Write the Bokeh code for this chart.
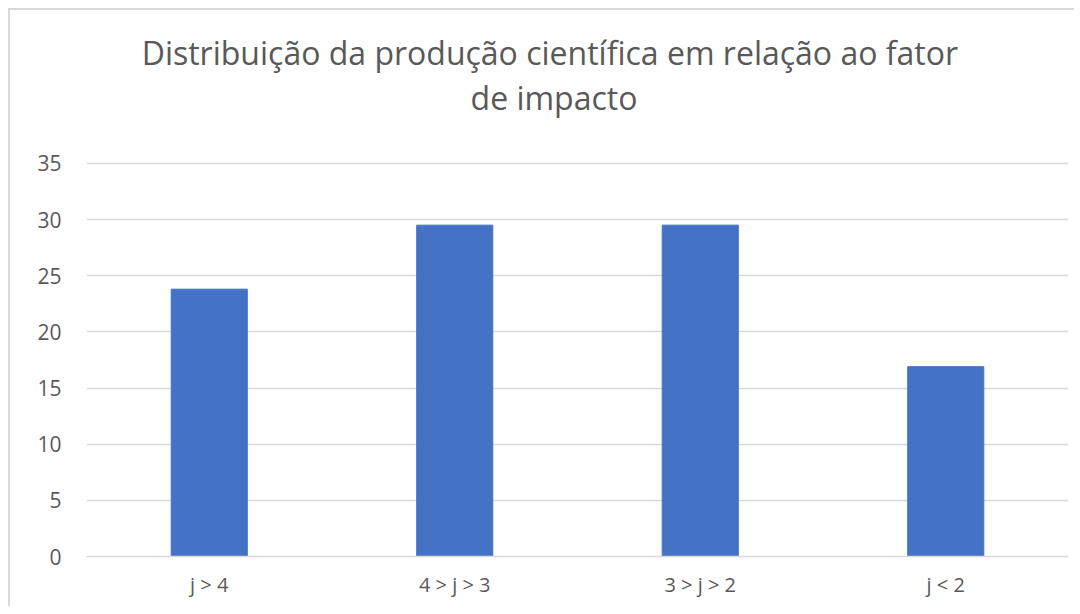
from bokeh.plotting import figure
from bokeh.models import FactorRange, Range1d, Label, ColumnDataSource, FixedTicker
from bokeh.embed import file_html
from bokeh.resources import INLINE

categories = ["j > 4", "4 > j > 3", "3 > j > 2", "j < 2"]
values = [23.8, 29.5, 29.5, 16.9]
y_ticks = [0, 5, 10, 15, 20, 25, 30, 35]
title_lines = ["Distribuição da produção científica  em relação ao fator", "de impacto"]

FONT = "Open Sans"
GRAY = "#595959"
GRID = "#d9d9d9"

# frame spans from near the figure top down to the zero line; ticks/grid only 0..35
p = figure(width=1066, height=598, x_range=FactorRange(*categories, range_padding=0),
           y_range=Range1d(0, 47.9), output_backend="svg", toolbar_location=None,
           min_border_left=76, min_border_right=8, min_border_top=8, min_border_bottom=52)
p.styles = {"border-top": "2px solid #d9d9d9", "border-left": "2px solid #d9d9d9",
            "margin-left": "8px", "margin-top": "8px"}

src = ColumnDataSource(dict(cat=categories, val=values))
p.vbar(x="cat", top="val", width=0.31, source=src, color="#4472C4", line_color="#4472C4")

p.outline_line_color = None
p.xgrid.grid_line_color = None
p.ygrid.grid_line_color = GRID
p.ygrid.grid_line_width = 1.5
p.yaxis.ticker = FixedTicker(ticks=y_ticks)
p.ygrid.ticker = FixedTicker(ticks=y_ticks)
p.yaxis.axis_line_color = None
p.yaxis.major_tick_line_color = None
p.yaxis.minor_tick_line_color = None
p.yaxis.major_label_text_font = FONT
p.yaxis.major_label_text_font_size = "21px"
p.yaxis.major_label_text_color = GRAY
p.yaxis.major_label_standoff = 19

p.xaxis.axis_line_color = GRID
p.xaxis.axis_line_width = 1.5
p.xaxis.major_tick_line_color = None
p.xaxis.minor_tick_line_color = None
p.xaxis.major_label_text_font = FONT
p.xaxis.major_label_text_font_size = "20px"
p.xaxis.major_label_text_color = GRAY
p.xaxis.major_label_standoff = 8

for txt, yy in zip(title_lines, [504.5, 459.5]):
    p.add_layout(Label(x=467.5, y=yy, x_units="screen", y_units="screen", text=txt,
                       text_align="center", text_baseline="middle", text_font=FONT,
                       text_font_size="32px", text_color=GRAY))

open("out.html", "w").write(file_html(p, INLINE))
